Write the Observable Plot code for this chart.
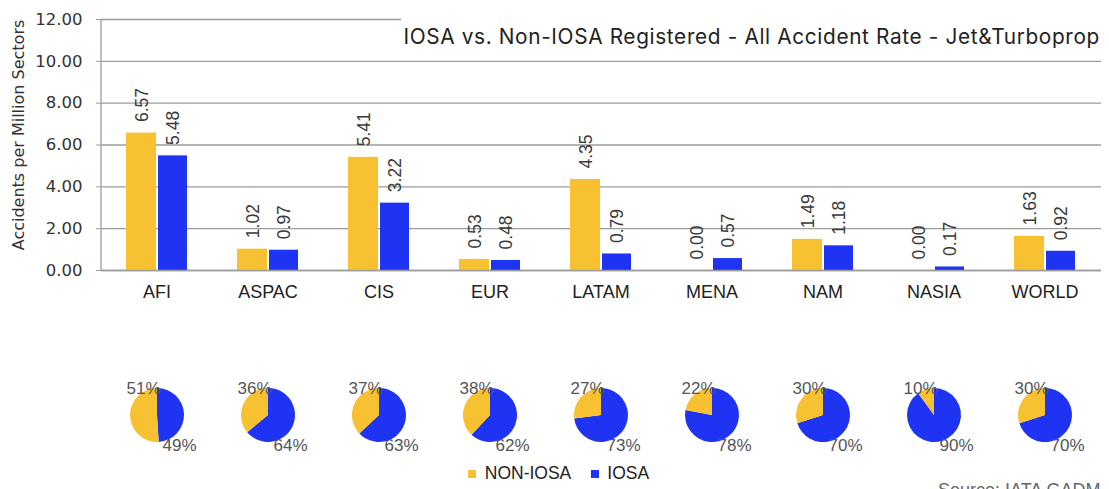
<!DOCTYPE html>
<html><head><meta charset="utf-8">
<script src="https://cdn.jsdelivr.net/npm/d3@7"></script>
<script src="https://cdn.jsdelivr.net/npm/@observablehq/plot@0.6"></script>
<style>
body{margin:0;background:#fff;}
#wrap{position:relative;width:1109px;height:489px;overflow:hidden;background:#fff;}
#bars{position:absolute;left:0;top:0;}
#pies{position:absolute;left:0;top:300px;}
#title{position:absolute;left:401px;top:8px;width:708px;height:46px;background:#fff;font-family:Inter,sans-serif;font-size:20.8px;color:#222;text-align:right;line-height:58px;padding-right:9px;box-sizing:border-box;white-space:nowrap;letter-spacing:0.65px;}
#legend{position:absolute;left:468px;top:463px;}
#legend .lg-swatches{font-family:"Liberation Sans",sans-serif;font-size:17.5px;color:#222;margin:0;}
#legend .lg-swatches-wrap{min-height:20px;}
#legend .lg-swatch{margin-right:1.1em;}
#source{position:absolute;left:938px;top:482px;font-family:"Liberation Sans",sans-serif;font-size:18px;line-height:16px;color:#666;white-space:nowrap;}
</style>
</head><body>
<div id="wrap">
  <div id="bars"></div>
  <div id="pies"></div>
  <div id="title"></div>
  <div id="legend"></div>
  <div id="source"></div>
</div>
<script>
const regions = ["AFI","ASPAC","CIS","EUR","LATAM","MENA","NAM","NASIA","WORLD"];
const nonIosaRate = [6.57,1.02,5.41,0.53,4.35,0.00,1.49,0.00,1.63];
const iosaRate    = [5.48,0.97,3.22,0.48,0.79,0.57,1.18,0.17,0.92];
const nonIosaShare = [51,36,37,38,27,22,30,10,30];
const iosaShare    = [49,64,63,62,73,78,70,90,70];
const yTicks = [0,2,4,6,8,10,12];
const seriesNames = ["NON-IOSA","IOSA"];
const titleText = "IOSA vs. Non-IOSA Registered - All Accident Rate - Jet&Turboprop";
const yLabel = "Accidents per Million Sectors";
const sourceText = "Source: IATA GADM";

const yellow = "#F8C132";
const blue = "#1F33F2";
const gridColor = "#9c9c9c";

const rows = regions.map((r, i) => ({
  region: r, non: nonIosaRate[i], iosa: iosaRate[i],
  nonShare: nonIosaShare[i], iosaShare: iosaShare[i]
}));

const xOpts = {domain: regions, paddingInner: 0.45, paddingOuter: 0.225, label: null};

const axisLine = (index, scales, values, dims) => {
  const l = d3.create("svg:line")
    .attr("x1", dims.marginLeft).attr("x2", dims.marginLeft)
    .attr("y1", dims.marginTop).attr("y2", dims.height - dims.marginBottom)
    .attr("stroke", gridColor).attr("stroke-width", 1.3);
  return l.node();
};

const valueText = {rotate: -90, textAnchor: "start", dy: -11, fontSize: 17.5,
  fontFamily: "Liberation Sans, Arial, sans-serif", fill: "#3a3a3a"};

const bars = Plot.plot({
  width: 1109, height: 300,
  marginLeft: 101, marginRight: 8, marginTop: 19, marginBottom: 30,
  x: xOpts,
  y: {domain: [0, 12], label: null},
  style: {background: "transparent", overflow: "visible"},
  marks: [
    Plot.gridY(yTicks, {stroke: gridColor, strokeOpacity: 1, strokeWidth: 1.3}),
    Plot.barY(rows, {x: "region", y: "non", fill: yellow, insetRight: 31}),
    Plot.barY(rows, {x: "region", y: "iosa", fill: blue, insetLeft: 32}),
    Plot.ruleY([0], {stroke: gridColor, strokeWidth: 1.5}),
    axisLine,
    Plot.axisY({ticks: yTicks, tickFormat: d3.format(".2f"), tickSize: 5, tickPadding: 14,
      stroke: gridColor, fill: "#333", fontSize: 16.5, fontFamily: "DejaVu Sans, sans-serif",
      label: null}),
    Plot.text([yLabel], {frameAnchor: "left", rotate: -90, dx: -83, dy: -10,
      textAnchor: "middle", lineAnchor: "middle", fontSize: 16,
      fontFamily: "DejaVu Sans, sans-serif", fill: "#333"}),
    Plot.axisX({tickSize: 0, tickPadding: 15, fontSize: 18,
      fontFamily: "Liberation Sans, Arial, sans-serif", fill: "#222", label: null}),
    Plot.text(rows, {x: "region", y: "non", text: d => d.non.toFixed(2), dx: -15, ...valueText}),
    Plot.text(rows, {x: "region", y: "iosa", text: d => d.iosa.toFixed(2), dx: 16, ...valueText})
  ]
});
document.getElementById("bars").append(bars);

const pieMark = (index, scales, values, dims) => {
  const g = d3.create("svg:g");
  const x = scales.x;
  const bw = x.bandwidth ? x.bandwidth() : 0;
  const cy = dims.marginTop + (dims.height - dims.marginTop - dims.marginBottom) / 2;
  const arc = d3.arc().innerRadius(0).outerRadius(27);
  const pie = d3.pie().sort(null).value(d => d.v);
  rows.forEach(r => {
    const cx = x(r.region) + bw / 2;
    const gg = g.append("g").attr("transform", `translate(${cx},${cy})`);
    gg.selectAll("path")
      .data(pie([{v: r.iosaShare, c: blue}, {v: r.nonShare, c: yellow}]))
      .join("path").attr("d", arc).attr("fill", d => d.data.c);
  });
  return g.node();
};

const pctText = {frameAnchor: "middle", fontSize: 17,
  fontFamily: "Liberation Sans, Arial, sans-serif", fill: "#555"};

const pies = Plot.plot({
  width: 1109, height: 160,
  marginLeft: 101, marginRight: 8, marginTop: 70, marginBottom: 0,
  x: {...xOpts, axis: null},
  style: {background: "transparent", overflow: "visible"},
  marks: [
    pieMark,
    Plot.text(rows, {x: "region", text: d => d.nonShare + "%", dx: -14, dy: -27, ...pctText}),
    Plot.text(rows, {x: "region", text: d => d.iosaShare + "%", dx: 22, dy: 30, ...pctText})
  ]
});
document.getElementById("pies").append(pies);

document.getElementById("title").textContent = titleText;
document.getElementById("source").textContent = sourceText;

const legend = Plot.legend({
  color: {type: "ordinal", domain: seriesNames, range: [yellow, blue]},
  legend: "swatches", swatchSize: 8, className: "lg"
});
document.getElementById("legend").append(legend);
</script>
</body></html>
